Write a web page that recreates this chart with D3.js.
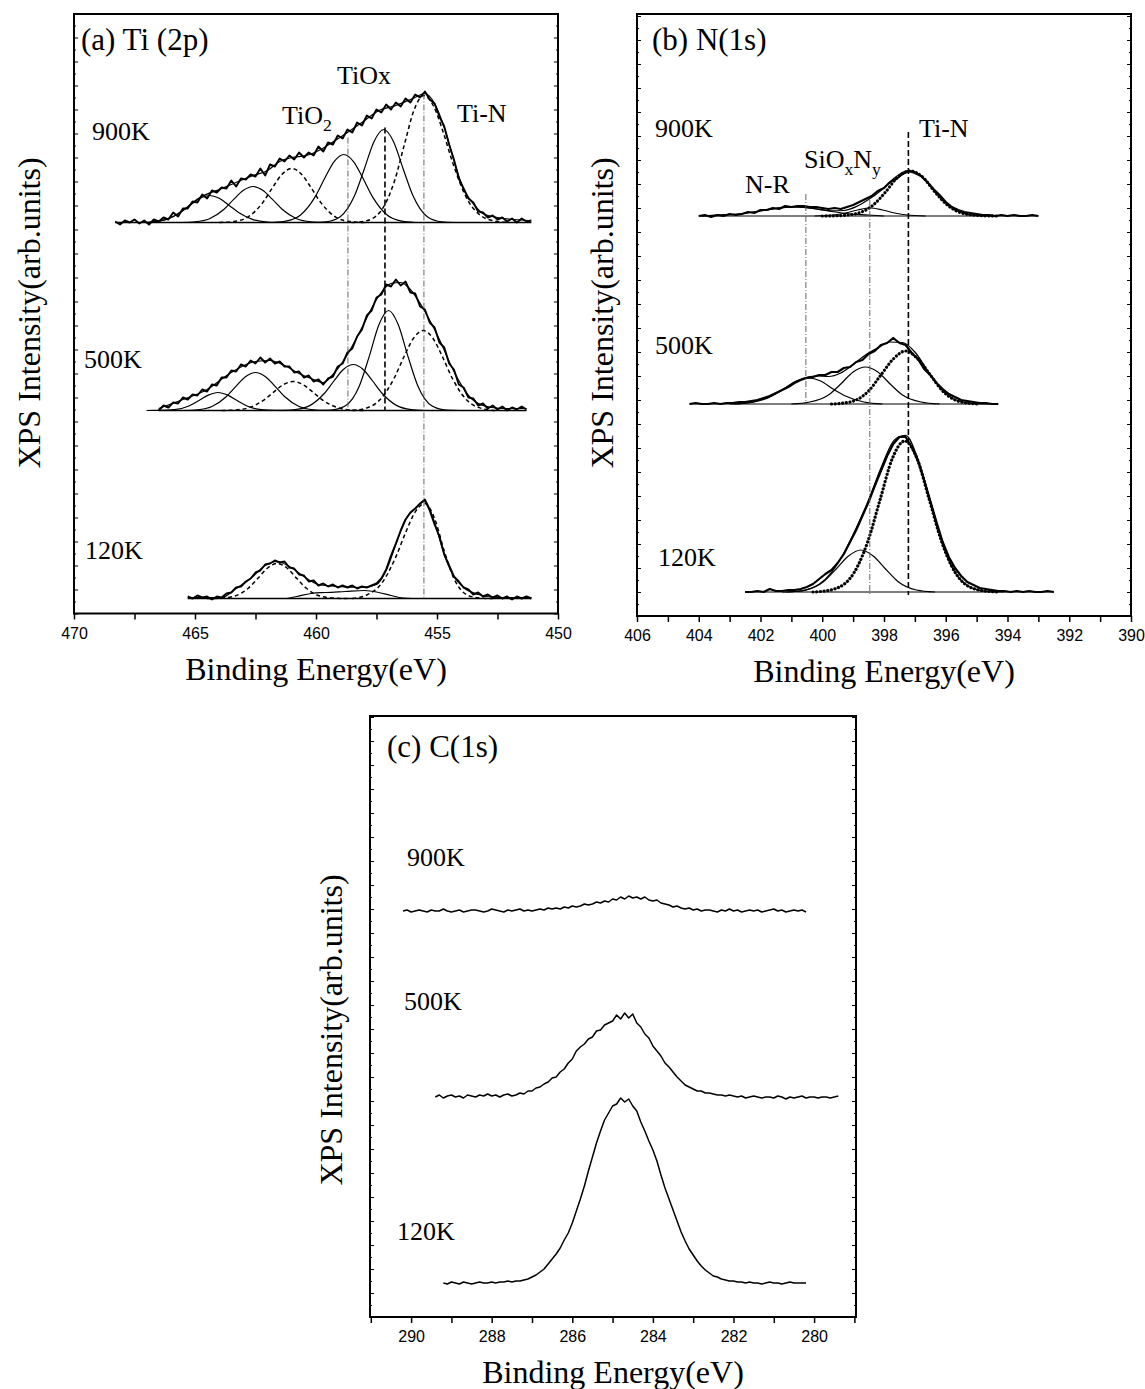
<!DOCTYPE html>
<html><head><meta charset="utf-8">
<script src="https://cdn.jsdelivr.net/npm/d3@7"></script>
<style>html,body{margin:0;background:#fff}</style>
</head><body>
<svg id="fig" width="1145" height="1389"></svg>
<script>
// ===================== (a) Ti 2p spectra =====================
// Measured counts above each curve's own baseline, sampled every 0.2 eV from the start energy downwards.
const tiStep = 0.2;
const ti900Start = 468.3;
const ti900 = [1,-2,2,0,3,-1,2,-2,3,1, 5,3,10,6,14,14,21,20,28,24, 32,30,35,34,42,36,44,43,48,46,
  54,47,58,56,64,61,67,63,70,65, 70,67,76,71,80,78,87,84,93,90, 100,97,107,104,113,110,118,113,120,116,
  124,120,128,125,131,123,119,106,96,78, 63,44,34,24,20,11,10,5,7,3, 5,1,4,0,4,1,2];
const ti500Start = 466.5;
const ti500 = [0,5,3,8,7,13,11,16,15,21, 19,26,25,33,33,40,39,46,44,50, 47,53,48,52,47,49,44,44,38,39,
  33,35,29,31,26,32,34,44,47,58, 62,74,81,95,100,113,116,126,124,131, 125,129,118,117,104,101,88,83,68,63,
  47,41,26,23,13,12,5,7,2,5, 1,4,0,3,1,4,1];
const ti120Start = 465.3;
const ti120 = [2,0,3,1,2,-1,2,1,5,6, 11,12,17,20,26,28,34,35,38,36, 37,31,30,24,23,17,18,13,15,12,
  14,11,13,11,13,10,12,11,13,15, 20,29,43,55,68,79,86,90,95,99, 88,74,62,44,33,22,17,11,9,4,
  6,2,4,1,3,0,2,-1,2,0, 2,0];
const tiOffsets = [391, 203, 15];          // vertical stacking of 900K, 500K, 120K
const tiTemps = ["900K", "500K", "120K"];

// Fitted components and fit envelopes, [energy, intensity]
const ti900Fits = {
  p1: [[467.4,0],[466.8,0.5],[466.2,2.9],[465.6,10],[465.2,17.3],[464.8,24.2],[464.4,27],[464.0,24.2],[463.6,17.3],[463.2,10],[462.6,2.9],[462.0,0.5],[461.4,0]],
  p2: [[465.6,0],[465.0,0.7],[464.4,3.8],[463.8,13.3],[463.4,23.1],[463.0,32.2],[462.6,36],[462.2,32.2],[461.8,23.1],[461.4,13.3],[460.8,3.8],[460.2,0.7],[459.6,0]],
  tio2: [[464.0,0],[463.4,1],[462.8,5.7],[462.2,19.9],[461.8,34.7],[461.4,48.3],[461.0,54],[460.6,48.3],[460.2,34.7],[459.8,19.9],[459.2,5.7],[458.6,1],[458.0,0]],
  p4: [[461.8,0],[461.25,1.3],[460.65,7.2],[460.05,25.1],[459.65,43.7],[459.25,60.9],[458.85,68],[458.45,60.9],[458.05,43.7],[457.65,25.1],[457.05,7.2],[456.45,1.3],[455.9,0]],
  tiox: [[460.2,0],[459.6,0.7],[459.0,5.8],[458.4,27.2],[458.0,53.8],[457.6,81.1],[457.2,93],[456.8,81.1],[456.4,53.8],[456.0,27.2],[455.4,5.8],[454.8,0.7],[454.2,0]],
  tin: [[458.5,0],[457.95,1.5],[457.35,10.5],[456.75,42],[456.35,77.7],[455.95,112.3],[455.55,127],[455.15,116.8],[454.75,90.8],[454.35,59.7],[453.75,23.2],[453.15,6.2],[452.5,1],[452.0,0]],
  sum: [[468.3,0],[467.0,0],[466.4,2],[466.0,5],[465.4,14],[464.8,25],[464.0,33],[463.4,39],[462.6,47],[462.0,52],[461.5,61],[461.0,65],[460.4,67],[459.8,73],[459.4,79],[458.7,90],[458.1,100],[457.4,112],[456.7,117],[456.0,124],[455.5,129],[455.1,119],[454.7,95],[454.3,62],[453.9,33],[453.5,19],[453.1,9],[452.5,5],[451.2,2]]
};
const ti500Fits = {
  p1: [[467.0,0],[466.45,0.1],[465.85,0.8],[465.25,4.5],[464.85,9.7],[464.45,15.4],[464.05,18],[463.65,15.4],[463.25,9.7],[462.85,4.5],[462.25,0.8],[461.65,0.1],[461.1,0]],
  p2: [[465.5,0],[464.9,0.7],[464.3,4],[463.7,14],[463.3,24.4],[462.9,34],[462.5,38],[462.1,34],[461.7,24.4],[461.3,14],[460.7,4],[460.1,0.7],[459.5,0]],
  tio2: [[463.9,0],[463.34,0.5],[462.74,3.1],[462.14,10.7],[461.74,18.6],[461.34,26],[460.94,29],[460.54,26],[460.14,18.6],[459.74,10.7],[459.14,3.1],[458.54,0.5],[458.0,0]],
  p4: [[461.4,0],[460.86,0.9],[460.26,4.9],[459.66,17],[459.26,29.5],[458.86,41.2],[458.46,46],[458.06,41.2],[457.66,29.5],[457.26,17],[456.66,4.9],[456.06,0.9],[455.5,0]],
  tiox: [[460.0,0],[459.4,0.4],[458.8,4.5],[458.2,25.1],[457.8,54.1],[457.4,85.8],[457.0,100],[456.6,85.8],[456.2,54.1],[455.8,25.1],[455.2,4.5],[454.6,0.4],[454.0,0]],
  tin: [[458.5,0],[457.97,2.1],[457.37,10.4],[456.77,32.3],[456.37,53.5],[455.97,72.3],[455.57,80],[455.17,72.3],[454.77,53.5],[454.37,32.3],[453.77,10.4],[453.17,2.1],[452.6,0]],
  sum: [[466.5,2],[465.5,11],[464.5,21],[463.5,38],[462.5,49],[461.9,50],[461.3,45],[460.7,37],[460.1,31],[459.7,28],[459.3,36],[458.7,56],[458.1,83],[457.5,111],[456.9,127],[456.5,128],[456.1,121],[455.5,99],[454.9,71],[454.3,39],[453.7,15],[453.1,5],[452.3,2],[451.3,2]]
};
const ti120Fits = {
  tio2: [[464.5,0],[464.0,0.3],[463.4,2.2],[462.8,10.2],[462.4,20.2],[462.0,30.5],[461.6,35],[461.2,30.5],[460.8,20.2],[460.4,10.2],[459.8,2.2],[459.2,0.3],[458.7,0]],
  p4: [[461.2,0],[460.8,2],[460.2,5],[459.6,6],[458.8,7],[458.0,8],[457.4,6],[456.9,3],[456.4,0.5],[456.0,0]],
  tin: [[458.5,0],[457.9,3.5],[457.3,14.8],[456.7,41.6],[456.3,65.8],[455.9,86.6],[455.5,95],[455.1,79.9],[454.7,47.5],[454.3,20],[453.7,2.9],[453.1,0.2],[452.6,0]],
  sum: [[465.3,1],[463.9,1],[463.3,10],[462.7,20],[462.1,33],[461.6,37],[461.1,32],[460.5,22],[459.9,14],[459.1,12],[458.1,11],[457.5,14],[457.1,28],[456.7,54],[456.3,79],[455.9,90],[455.5,97],[455.1,76],[454.7,44],[454.3,22],[453.9,11],[453.3,4],[452.5,1],[451.1,1]]
};
// Peak-position guides: [energy, top intensity, bottom intensity]
const tiGuides = [[458.68,476,203],[457.15,486,203],[455.54,520,16]];
const tiMajorTicks = [470,465,460,455,450];
const tiMinorTicks = [467.5,462.5,457.5,452.5];

// ===================== (b) N 1s spectra =====================
const nStep = 0.2;
const n900Start = 404.0;
const n900 = [0,1,-1,1,0,2,1,2,4,3, 6,6,8,7,10,9,10,10,9,9, 8,7,8,7,9,11,14,17,20,25,
  28,34,37,42,45,43,40,34,27,21, 14,9,6,4,3,2,1,1,0,1, 0,1,0,0,1,0];
const n500Start = 404.3;
const n500 = [0,1,0,0,1,0,1,1,2,2, 3,4,6,8,11,14,17,21,24,26, 27,29,29,32,32,36,37,42,44,50,
  53,59,61,66,61,59,51,45,35,29, 21,15,10,7,4,3,2,1,1,0, 0];
const n120Start = 402.5;
const n120 = [0,0,1,0,3,1,1,2,2,3, 5,8,13,18,22,29,38,50,62,76, 90,106,121,136,148,155,155,145,131,112,
  91,70,50,35,24,16,10,7,4,3, 2,1,1,0,1,0,1,0,0,1, 0];
const nOffsets = [400, 212, 24];
const nTemps = ["900K", "500K", "120K"];

const n900Fits = {
  nr: [[403.9,0],[403.3,1],[402.7,2],[402.1,4.5],[401.7,6.6],[401.3,8.3],[400.9,9],[400.5,8.3],[400.1,6.6],[399.7,4.5],[399.1,2],[398.5,1],[398.0,0]],
  sioxny: [[400.25,0],[399.65,1],[399.25,3],[398.85,6],[398.45,8],[398.05,6],[397.65,3],[397.25,1],[396.65,0]],
  tin: [[400.0,0],[399.55,0.2],[398.95,2],[398.35,11],[397.95,24],[397.55,39],[397.15,45],[396.75,39],[396.35,24],[395.95,11],[395.35,2],[394.75,0.2],[394.3,0]],
  sum: [[403.9,0],[403.3,1],[402.7,2],[402.1,4.5],[401.7,6.6],[401.3,8.3],[400.9,9],[400.5,8.3],[400.1,6.7],[399.7,5.1],[399.3,5.5],[398.9,9.4],[398.5,16.4],[398.1,25.5],[397.7,37],[397.3,45],[397.15,45.5],[396.9,42.4],[396.5,30],[396.1,15.6],[395.7,6],[395.3,1.7],[394.9,0.35],[394.5,0]]
};
const n500Fits = {
  nr: [[402.85,0],[402.25,2],[401.65,8],[401.25,15],[400.85,23],[400.45,26],[400.05,23],[399.65,15],[399.25,8],[398.65,2],[398.05,0]],
  sioxny: [[401.0,0],[400.4,2],[399.8,9],[399.4,20],[399.0,32],[398.6,37],[398.2,32],[397.8,20],[397.4,9],[396.8,2],[396.2,0]],
  tin: [[399.7,0],[399.1,2],[398.5,13],[398.1,29],[397.7,45],[397.3,53],[396.9,45],[396.5,29],[396.1,13],[395.5,2],[394.9,0]],
  sum: [[403.0,0],[402.6,0.5],[402.2,2],[401.8,5.5],[401.4,12],[401.0,20],[400.6,26],[400.2,28],[399.8,27.5],[399.4,31],[399.0,39.6],[398.6,49],[398.2,56],[397.8,62],[397.4,61.5],[397.0,52],[396.6,34],[396.2,17],[395.8,6],[395.4,1.7],[395.0,0.3],[394.6,0]]
};
const n120Fits = {
  sioxny: [[401.15,0],[400.55,2],[399.95,10.5],[399.55,23],[399.15,36],[398.75,42],[398.35,36],[397.95,23],[397.55,10.5],[396.95,2],[396.35,0]],
  tin: [[400.3,0],[399.73,2],[399.13,12.5],[398.53,50],[398.13,92],[397.73,133.5],[397.33,151],[396.93,133.5],[396.53,92],[396.13,50],[395.53,12.5],[394.93,2],[394.3,0]],
  sum: [[401.3,0],[400.9,0.5],[400.5,2.2],[400.1,7.7],[399.7,19.7],[399.3,39],[398.9,64],[398.5,92],[398.1,124],[397.7,150.6],[397.45,156],[397.3,156.6],[396.9,132.7],[396.5,89.3],[396.1,47.3],[395.7,19.6],[395.3,6.4],[394.9,1.6],[394.5,0.3],[394.1,0]]
};
const nGuides = [[400.53,422,212],[398.46,416,21],[397.21,484,21]];
const nMajorTicks = [406,404,402,400,398,396,394,392,390];
const nMinorTicks = [405,403,401,399,397,395,393,391];

// ===================== (c) C 1s spectra =====================
const cStep = 0.1;
const c900Start = 290.2;
const c900 = [0,1,-1,0,1,0,-1,1,0,0, 2,0,-1,0,1,-1,0,1,1,0, -1,0,2,1,0,-1,1,0,1,2, 0,1,0,
  1,2,1,3,2,3,2,4,3,5, 4,5,7,6,7,9,8,10,9,12, 11,14,12,15,13,14,12,14,11,10, 11,8,7,6,4,5,3,2,3,1,
  2,0,1,1,0,-1,1,0,2,0, 1,-1,0,1,0,1,-1,0,1,2, 0,1,-1,0,1,0,1,-1];
const c500Start = 289.4;
const c500 = [0,2,-1,1,2,0,1,-1,2,1, 0,2,1,3,1,2,0,2,3,1, 2,
  4,3,6,6,9,10,13,15,19,20, 25,28,34,38,46,50,53,58,60,66, 67,72,74,76,82,78,84,79,83,74,
  70,63,59,51,46,41,34,30,25,20, 16,12,10,8,6,6,4,4,3,
  2,2,1,2,1,0,1,-1,0,1, 0,-1,0,0,-1,1,0,-2,0,-1, 0,1,-1,0,0,-1,0,0,-1,0, 1];
const c120Start = 289.2;
const c120 = [0,-1,1,0,-1,1,0,-1,0,1, 0,0,1,0,1,1,2,1,
  2,2,3,4,6,8,11,14,19,24, 29,35,43,50,60,72,84,97,112,126, 140,152,163,170,177,179,185,181,184,177,
  172,161,152,142,133,122,108,95,84,73, 62,51,42,34,28,22,17,13,10,7, 6,4,3,
  2,2,1,1,0,1,0,0,-1,0, 1,0,0,-1,0,1,0,0,0,0];
const cOffsets = [406, 220, 34];
const cTemps = ["900K", "500K", "120K"];
const cMajorTicks = [290,288,286,284,282,280];
const cMinorTicks = [291,289,287,285,283,281,279];

// ===================== drawing =====================
const SERIF = '"Liberation Serif","Times New Roman",serif';
const SANS = '"Liberation Sans",Arial,sans-serif';
const svg = d3.select('#fig');

const grid = (start, step, vals) => vals.map((v, i) => [+(start - i * step).toFixed(3), v]);

function makePanel(p) {
  const x = d3.scaleLinear().domain(p.xDomain).range([p.left, p.right]);
  const y = d3.scaleLinear().domain([0, p.yMax]).range([p.bottom, p.top]);
  const g = svg.append('g');

  // bottom axis: labelled majors and unlabelled minors, ticks pointing out
  const xa = g.append('g').attr('transform', `translate(0,${p.bottom})`)
    .call(d3.axisBottom(x).tickValues(p.majors).tickSize(6).tickPadding(8).tickFormat(d3.format('d')));
  const xm = g.append('g').attr('transform', `translate(0,${p.bottom})`)
    .call(d3.axisBottom(x).tickValues(p.minors).tickSize(6).tickFormat(''));
  [xa, xm].forEach(a => {
    a.select('.domain').remove();
    a.selectAll('line').attr('stroke', '#000').attr('stroke-width', 1.5);
  });
  xa.selectAll('text').attr('font-family', SANS).attr('font-size', 16).attr('fill', '#000');

  // small inward ticks on the left and right frame edges
  const yMajor = d3.range(0, p.yMax, 24), yMinor = d3.range(12, p.yMax, 24);
  [[d3.axisLeft, p.left], [d3.axisRight, p.right]].forEach(([ax, px]) => {
    [[yMajor, 4], [yMinor, 2]].forEach(([vals, len]) => {
      const a = g.append('g').attr('transform', `translate(${px},0)`)
        .call(ax(y).tickValues(vals).tickSize(-len).tickFormat(''));
      a.select('.domain').remove();
      a.selectAll('line').attr('stroke', '#000').attr('stroke-width', 1);
    });
  });

  // axis titles
  g.append('text').attr('x', (p.left + p.right) / 2).attr('y', p.bottom + 66)
    .attr('text-anchor', 'middle').attr('font-family', SERIF).attr('font-size', 32)
    .text('Binding Energy(eV)');
  g.append('text').attr('transform', `translate(${p.yTitleX},${p.yTitleY}) rotate(-90)`)
    .attr('text-anchor', 'middle').attr('font-family', SERIF).attr('font-size', 32)
    .text('XPS Intensity(arb.units)');

  const plot = g.append('g');
  p.x = x; p.y = y; p.plot = plot; p.g = g;
  return p;
}

function finishPanel(p) {
  p.g.append('rect').attr('x', p.left).attr('y', p.top)
    .attr('width', p.right - p.left).attr('height', p.bottom - p.top)
    .attr('fill', 'none').attr('stroke', '#000').attr('stroke-width', 2);
}

function curveLine(p, offset, curve) {
  return d3.line().x(d => p.x(d[0])).y(d => p.y(d[1] + offset)).curve(curve || d3.curveLinear);
}

function drawSpectrum(p, pts, offset, width) {
  p.plot.append('path').attr('d', curveLine(p, offset)(pts))
    .attr('fill', 'none').attr('stroke', '#000').attr('stroke-width', width)
    .attr('stroke-linejoin', 'round');
}

function drawBaseline(p, pts, offset, width) {
  const e = d3.extent(pts, d => d[0]);
  p.plot.append('path').attr('d', curveLine(p, offset)([[e[1], 0], [e[0], 0]]))
    .attr('fill', 'none').attr('stroke', '#000').attr('stroke-width', width);
}

function drawFit(p, pts, offset, style) {
  const path = p.plot.append('path').attr('d', curveLine(p, offset, d3.curveMonotoneX)(pts))
    .attr('fill', 'none').attr('stroke', '#000');
  if (style === 'dash') path.attr('stroke-width', 1.5).attr('stroke-dasharray', '4,3');
  else if (style === 'dot') path.attr('stroke-width', 3.2).attr('stroke-dasharray', '0.1,3.6').attr('stroke-linecap', 'round');
  else path.attr('stroke-width', 1.2);
}

function drawGuide(p, guide, style) {
  const [e, top, bottom] = guide;
  const l = p.plot.append('line').attr('x1', p.x(e)).attr('x2', p.x(e))
    .attr('y1', p.y(top)).attr('y2', p.y(bottom));
  if (style === 'bold') l.attr('stroke', '#000').attr('stroke-width', 1.6).attr('stroke-dasharray', '6,3');
  else l.attr('stroke', '#555').attr('stroke-width', 0.9).attr('stroke-dasharray', '6,2,1,2');
}

function label(p, x, y, size, parts) {
  const t = p.g.append('text').attr('x', x).attr('y', y).attr('font-family', SERIF).attr('font-size', size);
  let shift = 0;
  parts.forEach(([s, sub]) => {
    const ts = t.append('tspan').text(s);
    const want = sub ? 7 : 0;
    if (want !== shift) { ts.attr('dy', want - shift); shift = want; }
    if (sub) ts.attr('font-size', size * 0.68);
  });
  return t;
}

// ---------- panel (a) ----------
const A = makePanel({left: 74, right: 558, top: 14, bottom: 613.5, xDomain: [470, 450], yMax: 599.5,
  majors: tiMajorTicks, minors: tiMinorTicks, yTitleX: 40, yTitleY: 313});
const tiStyles = {p1: 'solid', p2: 'solid', tio2: 'dash', p4: 'solid', tiox: 'solid', tin: 'dash', sum: 'solid'};
[[ti900Start, ti900, ti900Fits], [ti500Start, ti500, ti500Fits], [ti120Start, ti120, ti120Fits]]
  .forEach(([start, vals, fits], i) => {
    const pts = grid(start, tiStep, vals);
    drawBaseline(A, pts, tiOffsets[i], 1.6);
    Object.entries(fits).forEach(([k, f]) => drawFit(A, f, tiOffsets[i], i === 2 && k === 'p4' ? 'solid' : tiStyles[k]));
    drawSpectrum(A, pts, tiOffsets[i], 1.9);
  });
tiGuides.forEach((gd, i) => drawGuide(A, gd, i === 1 ? 'bold' : 'thin'));
finishPanel(A);
label(A, 81, 50, 31, [['(a) Ti (2p)']]);
label(A, 92, 140, 26, [[tiTemps[0]]]);
label(A, 84, 368, 26, [[tiTemps[1]]]);
label(A, 85, 559, 26, [[tiTemps[2]]]);
label(A, 337, 84, 26, [['TiOx']]);
label(A, 282, 124, 26, [['TiO'], ['2', true]]);
label(A, 457, 122, 26, [['Ti-N']]);

// ---------- panel (b) ----------
const B = makePanel({left: 637, right: 1131, top: 14, bottom: 616, xDomain: [406, 390], yMax: 602,
  majors: nMajorTicks, minors: nMinorTicks, yTitleX: 613, yTitleY: 313});
const nStyles = {nr: 'solid', sioxny: 'solid', tin: 'dot', sum: 'solid'};
[[n900Start, n900, n900Fits], [n500Start, n500, n500Fits], [n120Start, n120, n120Fits]]
  .forEach(([start, vals, fits], i) => {
    const pts = grid(start, nStep, vals);
    drawBaseline(B, pts, nOffsets[i], 1.2);
    Object.entries(fits).forEach(([k, f]) => drawFit(B, f, nOffsets[i], nStyles[k]));
    drawSpectrum(B, pts, nOffsets[i], 2.2);
  });
nGuides.forEach((gd, i) => drawGuide(B, gd, i === 2 ? 'bold' : 'thin'));
finishPanel(B);
label(B, 652, 50, 31, [['(b) N(1s)']]);
label(B, 655, 137, 26, [[nTemps[0]]]);
label(B, 655, 354, 26, [[nTemps[1]]]);
label(B, 658, 566, 26, [[nTemps[2]]]);
label(B, 919, 137, 26, [['Ti-N']]);
label(B, 804, 168, 26, [['SiO'], ['x', true], ['N'], ['y', true]]);
label(B, 745, 193, 26, [['N-R']]);

// ---------- panel (c) ----------
const C = makePanel({left: 370, right: 856, top: 716, bottom: 1317, xDomain: [291.02, 278.96], yMax: 601,
  majors: cMajorTicks, minors: cMinorTicks, yTitleX: 342, yTitleY: 1030});
[[c900Start, c900], [c500Start, c500], [c120Start, c120]].forEach(([start, vals], i) => {
  drawSpectrum(C, grid(start, cStep, vals), cOffsets[i], 1.5);
});
finishPanel(C);
label(C, 387, 757, 31, [['(c) C(1s)']]);
label(C, 407, 866, 26, [[cTemps[0]]]);
label(C, 404, 1010, 26, [[cTemps[1]]]);
label(C, 397, 1240, 26, [[cTemps[2]]]);
</script>
</body></html>
